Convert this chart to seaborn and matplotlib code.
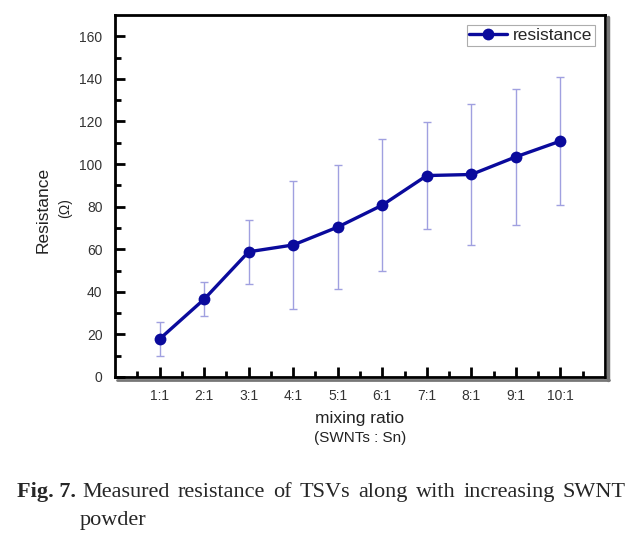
import numpy as np
import pandas as pd
import matplotlib
matplotlib.use("Agg")
import matplotlib.pyplot as plt
import seaborn as sns

# mixing ratio (SWNTs : Sn) and measured resistance with spread
ratios = ["1:1", "2:1", "3:1", "4:1", "5:1", "6:1", "7:1", "8:1", "9:1", "10:1"]
resistance = [17.8, 36.5, 58.8, 62.0, 70.4, 80.7, 94.6, 95.1, 103.4, 110.8]
spread = [8, 8, 15, 30, 29, 31, 25, 33, 32, 30]
y_ticks = [0, 20, 40, 60, 80, 100, 120, 140, 160]

df = pd.DataFrame({"pos": np.arange(1, len(ratios) + 1), "ratio": ratios,
                   "resistance": resistance, "err": spread})

sns.set_style("white")
plt.rcParams["font.family"] = ["Liberation Sans", "DejaVu Sans"]

fig = plt.figure(figsize=(6.41, 5.41), dpi=100)
ax = fig.add_axes([115 / 641, 1 - 377 / 541, 490 / 641, 362 / 541])

line_c = "#0a0a9c"
err_c = "#a0a0e0"

ax.errorbar(df["pos"], df["resistance"], yerr=df["err"], fmt="none",
            ecolor=err_c, elinewidth=1.0, capsize=3, capthick=1.0, zorder=2)
sns.lineplot(data=df, x="pos", y="resistance", ax=ax, color=line_c,
             linewidth=2.4, marker="o", markersize=8.5, markeredgewidth=0,
             label="resistance", zorder=3)

ax.set_xlim(0, 11)
ax.set_ylim(0, 170)
ax.set_xticks(df["pos"])
ax.set_xticklabels(ratios)
ax.set_xticks(np.arange(0.5, 11, 1), minor=True)
ax.set_yticks(y_ticks)
ax.set_yticks(np.arange(10, 170, 20), minor=True)

ax.tick_params(which="both", direction="in", width=2, color="black",
               labelsize=10, labelcolor="#333333", bottom=True, left=True)
ax.tick_params(which="major", length=7, pad=9)
ax.tick_params(which="minor", length=4)
for s in ax.spines.values():
    s.set_linewidth(2)
    s.set_color("black")

ax.set_xlabel("")
ax.set_ylabel("")

# Origin-style drop shadow on right and bottom
fig.add_artist(plt.Line2D([608 / 641, 608 / 641], [1 - 380 / 541, 1 - 17 / 541],
                          color="#777777", linewidth=2.5, transform=fig.transFigure))
fig.add_artist(plt.Line2D([117 / 641, 609 / 641], [1 - 379.5 / 541, 1 - 379.5 / 541],
                          color="#777777", linewidth=2.0, transform=fig.transFigure))

leg = ax.legend(loc="upper right", fontsize=12.5, frameon=True, fancybox=False,
                handlelength=2.2, handletextpad=0.3, borderpad=0.15,
                borderaxespad=0.6)
leg.get_frame().set_edgecolor("#999999")
leg.get_frame().set_linewidth(0.8)

fig.text(43 / 641, 1 - 210 / 541, "Resistance", rotation=90, fontsize=12.5,
         color="#222222", ha="center", va="center")
fig.text(65 / 641, 1 - 208 / 541, "(\u03a9)", rotation=90, fontsize=10,
         color="#222222", ha="center", va="center")
fig.text(360 / 641, 1 - 419 / 541, "mixing ratio", fontsize=12.5,
         color="#222222", ha="center", va="center")
fig.text(360 / 641, 1 - 438 / 541, "(SWNTs : Sn)", fontsize=11,
         color="#222222", ha="center", va="center")

# caption, justified on the first line
serif = ["Liberation Serif", "DejaVu Serif"]
cap_size = 16
fig.text(17 / 641, 1 - 497 / 541, "Fig. 7.", fontsize=cap_size, family=serif,
         fontweight="bold", va="baseline")
words = "Measured resistance of TSVs along with increasing SWNT".split()
fig.canvas.draw()
r = fig.canvas.get_renderer()
objs = [fig.text(0, 1 - 497 / 541, w, fontsize=cap_size, family=serif, va="baseline")
        for w in words]
widths = [o.get_window_extent(r).width for o in objs]
x0, x1 = 82, 626
gap = (x1 - x0 - sum(widths)) / (len(words) - 1)
x = x0
for o, w in zip(objs, widths):
    o.set_x(x / 641)
    x += w + gap
fig.text(80 / 641, 1 - 525 / 541, "powder", fontsize=cap_size, family=serif,
         va="baseline")

fig.savefig("out.png", dpi=100)
